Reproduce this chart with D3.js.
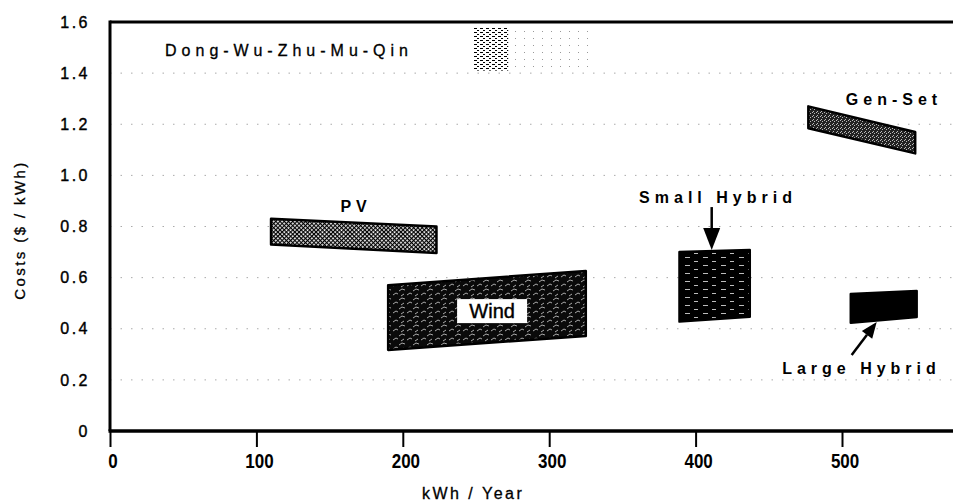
<!DOCTYPE html>
<html>
<head>
<meta charset="utf-8">
<script src="https://cdn.jsdelivr.net/npm/d3@7"></script>
<style>
body { margin: 0; background: #fff; }
text { font-family: "Liberation Sans", Arial, sans-serif; fill: #000; }
</style>
</head>
<body>
<div id="chart"></div>
<script>
// cost bands (kWh/year, $/kWh at the four corners)
var techNames   = ["PV", "Wind", "Small Hybrid", "Large Hybrid", "Gen-Set"];
var kwhFrom     = [110, 190, 389, 506, 477];
var kwhTo       = [223, 325, 437, 551, 550];
var costTopFrom = [0.83, 0.57, 0.70, 0.536, 1.27];
var costTopTo   = [0.80, 0.626, 0.708, 0.548, 1.17];
var costBotFrom = [0.73, 0.317, 0.428, 0.423, 1.184];
var costBotTo   = [0.696, 0.372, 0.447, 0.446, 1.086];

var xTicks = [0, 100, 200, 300, 400, 500];
var yTicks = [0, 0.2, 0.4, 0.6, 0.8, 1.0, 1.2, 1.4, 1.6];
var gridLevels = [0.2, 0.4, 0.6, 0.8, 1.0, 1.2, 1.4];

// scan smudge near the top edge
var smudgeKwh  = [248, 272, 328];
var smudgeCost = [1.41, 1.58];

var width = 953, height = 504;

var x = d3.scaleLinear().domain([0, 500]).range([110, 842]);
var y = d3.scaleLinear().domain([0, 1.6]).range([431, 22]);

var svg = d3.select('#chart')
	.append('svg')
	.attr('width', width)
	.attr('height', height);

var defs = svg.append('defs');

function pattern(id, w, h, bg) {
	var p = defs.append('pattern')
		.attr('id', id)
		.attr('patternUnits', 'userSpaceOnUse')
		.attr('width', w)
		.attr('height', h);
	p.append('rect').attr('width', w).attr('height', h).attr('fill', bg);
	return p;
}

// PV: fine diamond mesh
var pPV = pattern('fillPV', 3, 3, '#fff').attr('patternTransform', 'rotate(45)');
pPV.append('rect').attr('x', 0).attr('y', 0).attr('width', 3).attr('height', 1.2).attr('fill', '#000');
pPV.append('rect').attr('x', 0).attr('y', 0).attr('width', 1.2).attr('height', 3).attr('fill', '#000');

// Wind: black with light squiggles
var pWind = pattern('fillWind', 14, 9, '#0a0a0a');
["M1,7 L4,5 L6,6", "M7,3 L10,1 L13,2", "M9,8 L12,6"].forEach(function(d) {
	pWind.append('path').attr('d', d).attr('stroke', '#bbb').attr('stroke-width', 0.9).attr('fill', 'none');
});

// Small hybrid: black with white horizontal streaks
var pSmall = pattern('fillSmall', 18, 8, '#000');
pSmall.append('path').attr('d', 'M1,1.5 H6 M10,5.5 H14').attr('stroke', '#eee').attr('stroke-width', 0.8);

// Gen-set: dark stipple
var pGen = pattern('fillGen', 4, 4, '#222');
[[0, 0], [2, 1], [1, 3]].forEach(function(p) {
	pGen.append('rect').attr('x', p[0]).attr('y', p[1]).attr('width', 1).attr('height', 1).attr('fill', '#bbb');
});

// smudge textures
var pDense = pattern('fillDense', 6, 4, '#fff');
pDense.append('rect').attr('x', 0).attr('y', 0).attr('width', 3).attr('height', 1).attr('fill', '#000');
pDense.append('rect').attr('x', 3).attr('y', 2).attr('width', 2).attr('height', 1).attr('fill', '#000');
var pLight = pattern('fillLight', 9, 7, '#fff');
pLight.append('rect').attr('x', 2).attr('y', 3).attr('width', 1).attr('height', 1).attr('fill', '#999');

var fills = {'PV': 'url(#fillPV)', 'Wind': 'url(#fillWind)', 'Small Hybrid': 'url(#fillSmall)',
	'Large Hybrid': '#000', 'Gen-Set': 'url(#fillGen)'};

// dotted gridlines
svg.append('g')
	.selectAll('line')
	.data(gridLevels)
	.enter()
	.append('line')
		.attr('x1', x(0))
		.attr('x2', width)
		.attr('y1', function(d) { return y(d); })
		.attr('y2', function(d) { return y(d); })
		.attr('stroke', '#aaa')
		.attr('stroke-width', 1)
		.attr('stroke-dasharray', '1.5 9');

// smudge
svg.append('rect')
	.attr('x', x(smudgeKwh[1])).attr('y', y(smudgeCost[1]))
	.attr('width', x(smudgeKwh[2]) - x(smudgeKwh[1]))
	.attr('height', y(smudgeCost[0]) - y(smudgeCost[1]))
	.attr('fill', 'url(#fillLight)');
svg.append('rect')
	.attr('x', x(smudgeKwh[0])).attr('y', y(smudgeCost[1]))
	.attr('width', x(smudgeKwh[1]) - x(smudgeKwh[0]))
	.attr('height', y(smudgeCost[0]) - y(smudgeCost[1]))
	.attr('fill', 'url(#fillDense)');

// bands
var bands = techNames.map(function(name, i) {
	return {name: name, corners: [
		[kwhFrom[i], costTopFrom[i]], [kwhTo[i], costTopTo[i]],
		[kwhTo[i], costBotTo[i]], [kwhFrom[i], costBotFrom[i]]]};
});

svg.append('g')
	.selectAll('path')
	.data(bands)
	.enter()
	.append('path')
		.attr('d', function(d) {
			return 'M' + d.corners.map(function(c) { return x(c[0]) + ',' + y(c[1]); }).join('L') + 'Z';
		})
		.attr('fill', function(d) { return fills[d.name]; })
		.attr('stroke', '#000')
		.attr('stroke-width', 2.5)
		.attr('stroke-linejoin', 'round');

// axes frame
var frame = svg.append('g').attr('stroke', '#000').attr('fill', 'none');
frame.append('line').attr('x1', x(0)).attr('x2', width).attr('y1', y(1.6)).attr('y2', y(1.6)).attr('stroke-width', 3);
frame.append('line').attr('x1', x(0)).attr('x2', x(0)).attr('y1', y(1.6) - 1.5).attr('y2', y(0)).attr('stroke-width', 3);
frame.append('line').attr('x1', x(0) - 1.5).attr('x2', width).attr('y1', y(0)).attr('y2', y(0)).attr('stroke-width', 3.5);

// x axis ticks and labels
var xAxis = svg.append('g')
	.attr('transform', 'translate(0,' + y(0) + ')')
	.call(d3.axisBottom(x).tickValues(xTicks).tickSize(16).tickPadding(7).tickFormat(d3.format('d')));
xAxis.select('.domain').remove();
xAxis.selectAll('.tick line').attr('stroke-width', 2);
xAxis.selectAll('.tick text')
	.attr('dx', 3)
	.attr('transform', 'scale(0.85,1)')
	.attr('x', function(d) { return 0; })
	.style('font-weight', 'bold')
	.style('font-size', '20px');

// y axis labels
var yAxis = svg.append('g')
	.attr('transform', 'translate(' + x(0) + ',0)')
	.call(d3.axisLeft(y).tickValues(yTicks).tickSize(0).tickPadding(20)
		.tickFormat(function(d) { return d === 0 ? '0' : d.toFixed(1); }));
yAxis.select('.domain').remove();
yAxis.selectAll('.tick text')
	.style('font-size', '16px')
	.style('letter-spacing', '2.5px')
	.attr('stroke', '#000')
	.attr('stroke-width', 0.4);

// axis titles
svg.append('text')
	.attr('transform', 'translate(25,' + 230 + ') rotate(-90)')
	.attr('text-anchor', 'middle')
	.attr('stroke', '#000')
	.attr('stroke-width', 0.3)
	.style('font-size', '15px')
	.style('letter-spacing', '2.4px')
	.text('Costs ($ / kWh)');
svg.append('text')
	.attr('x', x(248))
	.attr('y', 499)
	.attr('text-anchor', 'middle')
	.attr('stroke', '#000')
	.attr('stroke-width', 0.3)
	.style('font-size', '16px')
	.style('letter-spacing', '2.5px')
	.text('kWh / Year');

// site name
svg.append('text')
	.attr('x', x(37.6))
	.attr('y', y(1.467))
	.attr('stroke', '#000')
	.attr('stroke-width', 0.3)
	.style('font-size', '16px')
	.style('letter-spacing', '5px')
	.text('Dong-Wu-Zhu-Mu-Qin');

// band labels
var labelNames = ["PV", "Gen-Set", "Small Hybrid", "Large Hybrid"];
var labelKwh   = [166.4, 533.8, 413.6, 511.6];
var labelCost  = [0.857, 1.275, 0.892, 0.223];
svg.append('g')
	.selectAll('text')
	.data(labelNames)
	.enter()
	.append('text')
		.attr('x', function(d, i) { return x(labelKwh[i]); })
		.attr('y', function(d, i) { return y(labelCost[i]); })
		.attr('dx', 2.5)
		.attr('text-anchor', 'middle')
		.style('font-size', '16px')
		.style('font-weight', 'bold')
		.style('letter-spacing', '5px')
		.text(function(d) { return d; });

// Wind label in a white box
var windKwh = 261, windCost = 0.469;
svg.append('rect')
	.attr('x', x(windKwh) - 35).attr('y', y(windCost) - 12)
	.attr('width', 70).attr('height', 24)
	.attr('fill', '#fff');
svg.append('text')
	.attr('x', x(windKwh))
	.attr('y', y(windCost))
	.attr('dy', '0.36em')
	.attr('text-anchor', 'middle')
	.attr('stroke', '#000')
	.attr('stroke-width', 0.4)
	.style('font-size', '20px')
	.text('Wind');

// arrows
var arrowFrom = [[411, 0.876], [506.6, 0.297]];
var arrowTo   = [[411, 0.708], [523.7, 0.426]];
var headLen = [22, 16], headWid = [17, 13];
arrowFrom.forEach(function(f, i) {
	var x1 = x(f[0]), y1 = y(f[1]), x2 = x(arrowTo[i][0]), y2 = y(arrowTo[i][1]);
	var dx = x2 - x1, dy = y2 - y1, len = Math.sqrt(dx * dx + dy * dy);
	var ux = dx / len, uy = dy / len;
	var bx = x2 - ux * headLen[i], by = y2 - uy * headLen[i];
	svg.append('line')
		.attr('x1', x1).attr('y1', y1).attr('x2', bx).attr('y2', by)
		.attr('stroke', '#000').attr('stroke-width', 2.5);
	svg.append('path')
		.attr('d', 'M' + x2 + ',' + y2 +
			'L' + (bx - uy * headWid[i] / 2) + ',' + (by + ux * headWid[i] / 2) +
			'L' + (bx + uy * headWid[i] / 2) + ',' + (by - ux * headWid[i] / 2) + 'Z')
		.attr('fill', '#000');
});
</script>
</body>
</html>
